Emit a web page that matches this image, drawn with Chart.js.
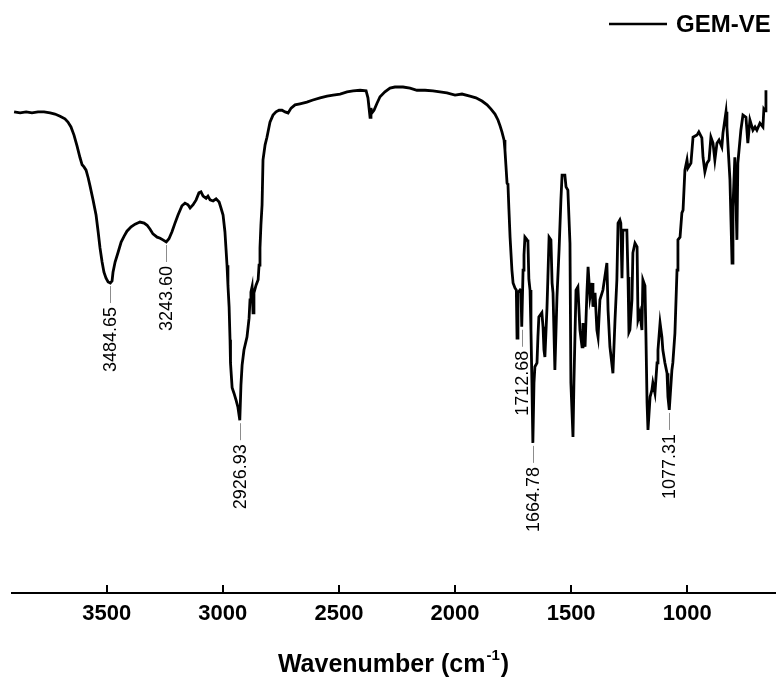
<!DOCTYPE html>
<html>
<head>
<meta charset="utf-8">
<title>GEM-VE FTIR</title>
<script src="https://cdn.jsdelivr.net/npm/chart.js@4.4.1/dist/chart.umd.min.js"></script>
<style>
  html, body { margin: 0; padding: 0; background: #fff; }
  canvas { display: block; }
</style>
</head>
<body>
<canvas id="myChart" width="776" height="682"></canvas>
<script>
// spectrum (wavenumber in cm-1, transmittance in arbitrary %)
var wavenumber = [
  3899, 3873, 3847, 3822, 3796, 3770, 3744, 3723, 3701, 3680, 3667, 3654, 3641, 3628, 3615, 3606, 3598, 3589, 3580, 3572,
  3559, 3546, 3537, 3529, 3520, 3512, 3503, 3494, 3484.65, 3477, 3473, 3464, 3451, 3438, 3425, 3413, 3395, 3378, 3357, 3339,
  3326, 3314, 3301, 3283, 3270, 3258, 3243.60, 3232, 3219, 3206, 3193, 3176, 3163, 3150, 3141, 3128, 3115, 3103, 3094, 3085,
  3072, 3064, 3055, 3042, 3029, 3016, 3008, 2999, 2991, 2986, 2982, 2978, 2973, 2969, 2967, 2960, 2952, 2943, 2935, 2926.93,
  2922, 2917, 2909, 2896, 2887, 2883, 2879, 2874, 2870, 2866, 2857, 2848, 2844, 2840, 2836, 2831, 2827, 2818, 2810, 2797,
  2784, 2771, 2758, 2745, 2732, 2719, 2706, 2689, 2668, 2638, 2612, 2581, 2551, 2525, 2495, 2465, 2439, 2409, 2383, 2375,
  2366, 2362, 2358, 2349, 2336, 2323, 2302, 2280, 2259, 2224, 2194, 2164, 2129, 2095, 2065, 2035, 2000, 1970, 1936, 1910,
  1884, 1862, 1845, 1828, 1815, 1806, 1798, 1789, 1785, 1781, 1776, 1772, 1768, 1763, 1755, 1750, 1742, 1736, 1733, 1729,
  1720, 1716, 1712.68, 1707, 1703, 1699, 1690, 1686, 1682, 1677, 1673, 1669, 1664.78, 1660, 1656, 1647, 1643, 1639, 1626, 1621,
  1617, 1613, 1604, 1600, 1595, 1587, 1582, 1578, 1570, 1561, 1552, 1544, 1539, 1527, 1522, 1514, 1505, 1501, 1492, 1488,
  1479, 1471, 1462, 1453, 1449, 1440, 1432, 1427, 1419, 1410, 1406, 1397, 1389, 1384, 1376, 1363, 1346, 1341, 1333, 1320,
  1311, 1303, 1298, 1290, 1286, 1281, 1277, 1260, 1255, 1251, 1247, 1238, 1234, 1225, 1216, 1212, 1204, 1195, 1191, 1182,
  1178, 1173, 1169, 1160, 1152, 1148, 1139, 1130, 1126, 1117, 1109, 1105, 1096, 1087, 1083, 1077.31, 1066, 1062, 1053, 1044,
  1040, 1031, 1023, 1018, 1010, 1001, 997, 984, 975, 958, 950, 937, 932, 924, 915, 906, 898, 889, 881, 872,
  863, 851, 846, 833, 829, 816, 807, 803, 795, 786, 782, 769, 760, 747, 739, 730, 717, 708, 700, 687,
  674, 670, 665, 661
];
var transmittance = [
  89.1, 88.9, 89.1, 88.9, 89.1, 89.1, 88.9, 88.7, 88.3, 87.8, 87.2, 86.3, 84.8, 82.8, 80.6, 79.3, 78.9, 78.3, 76.9, 75.4,
  72.8, 70.0, 66.9, 63.9, 61.3, 59.4, 58.3, 57.6, 57.4, 57.8, 59.4, 61.3, 63.1, 65.0, 66.1, 67.0, 67.8, 68.3, 68.7, 68.5,
  68.1, 67.4, 66.5, 65.9, 65.7, 65.4, 65.0, 65.6, 66.9, 68.5, 70.0, 71.7, 72.2, 71.9, 71.3, 71.9, 72.8, 74.1, 74.3, 73.5,
  73.1, 73.5, 72.8, 72.6, 73.0, 72.4, 71.3, 70.0, 66.9, 63.5, 60.7, 57.0, 53.0, 46.9, 42.6, 38.0, 37.0, 35.7, 34.4, 32.0,
  38.5, 42.2, 45.0, 47.4, 50.9, 54.3, 55.7, 56.7, 51.9, 55.6, 57.0, 58.0, 60.7, 63.9, 68.1, 71.9, 80.2, 83.0, 84.4, 87.2,
  88.5, 89.1, 89.4, 89.4, 89.1, 88.9, 89.8, 90.4, 90.6, 90.9, 91.3, 91.7, 92.0, 92.2, 92.4, 92.8, 93.0, 93.1, 93.0, 91.7,
  88.1, 89.8, 88.9, 89.4, 90.7, 91.9, 92.8, 93.5, 93.7, 93.7, 93.5, 93.1, 93.1, 93.0, 92.8, 92.6, 92.2, 92.4, 92.0, 91.7,
  91.1, 90.4, 89.6, 88.7, 87.6, 86.5, 85.4, 83.9, 82.0, 79.3, 75.9, 75.6, 71.1, 65.9, 59.8, 57.4, 56.5, 56.1, 47.2, 55.6,
  56.1, 55.9, 49.3, 59.8, 62.6, 65.9, 65.4, 65.0, 58.1, 56.1, 48.7, 39.4, 27.8, 38.9, 41.9, 42.6, 47.4, 51.1, 51.9, 49.3,
  45.0, 43.7, 52.8, 58.5, 65.9, 65.4, 57.4, 55.6, 41.3, 54.8, 63.5, 72.8, 77.4, 77.4, 75.2, 74.6, 64.8, 38.9, 28.9, 38.9,
  56.1, 56.7, 48.7, 45.6, 50.0, 45.6, 55.6, 60.4, 54.8, 57.4, 53.0, 55.6, 48.7, 47.4, 54.3, 56.1, 61.1, 52.4, 45.6, 40.7,
  50.6, 58.0, 68.5, 69.1, 68.5, 58.3, 67.2, 67.2, 58.5, 48.3, 48.7, 54.3, 63.0, 64.8, 64.1, 50.6, 51.9, 48.7, 58.0, 56.9,
  48.1, 35.2, 30.2, 36.3, 37.6, 38.9, 37.0, 42.6, 45.0, 50.0, 47.4, 45.0, 42.6, 40.7, 36.3, 33.9, 41.3, 42.6, 48.1, 59.8,
  65.4, 65.9, 70.4, 70.9, 78.3, 80.2, 78.7, 79.6, 84.4, 84.8, 85.4, 84.3, 80.7, 78.0, 79.6, 80.2, 84.4, 83.3, 80.2, 83.3,
  83.9, 82.6, 85.2, 89.1, 86.3, 76.5, 61.1, 71.5, 80.7, 65.4, 79.6, 85.7, 88.5, 88.1, 83.3, 87.6, 85.7, 86.3, 85.7, 87.0,
  86.3, 89.6, 89.3, 93.1
];

// labelled peaks
var peakWn = [3484.65, 3243.60, 2926.93, 1712.68, 1664.78, 1077.31];
var peakLabels = ['3484.65', '3243.60', '2926.93', '1712.68', '1664.78', '1077.31'];

// x axis
var tickValues = [3500, 3000, 2500, 2000, 1500, 1000];
var xMin = 622;
var xMax = 3908;

var points = wavenumber.map(function (w, i) {
    return { x: w, y: transmittance[i] };
});

var fontFamily = '"Liberation Sans", Arial, sans-serif';

// inward tick marks on the x axis
var innerTicks = {
    id: 'innerTicks',
    afterDraw: function (chart) {
        var ctx = chart.ctx;
        var xs = chart.scales.x;
        var bottom = chart.chartArea.bottom;
        ctx.save();
        ctx.strokeStyle = '#000';
        ctx.lineWidth = 2;
        tickValues.forEach(function (v) {
            var px = Math.round(xs.getPixelForValue(v));
            ctx.beginPath();
            ctx.moveTo(px, bottom);
            ctx.lineTo(px, bottom - 8);
            ctx.stroke();
        });
        ctx.restore();
    }
};

// peak labels with a thin leader line
var peakNotes = {
    id: 'peakNotes',
    afterDatasetsDraw: function (chart) {
        var ctx = chart.ctx;
        var xs = chart.scales.x;
        var ys = chart.scales.y;
        peakWn.forEach(function (wn, i) {
            var idx = wavenumber.indexOf(wn);
            var px = Math.round(xs.getPixelForValue(wn)) + 0.5;
            var py = ys.getPixelForValue(transmittance[idx]);
            ctx.save();
            ctx.strokeStyle = '#8c8c8c';
            ctx.lineWidth = 1;
            ctx.beginPath();
            ctx.moveTo(px, py + 3);
            ctx.lineTo(px, py + 20);
            ctx.stroke();
            ctx.translate(px, py + 24);
            ctx.rotate(-Math.PI / 2);
            ctx.fillStyle = '#000';
            ctx.font = '18px ' + fontFamily;
            ctx.textAlign = 'right';
            ctx.textBaseline = 'middle';
            ctx.fillText(peakLabels[i], 0, 1);
            ctx.restore();
        });
    }
};

// legend in the top right corner and the axis title with superscript
var extras = {
    id: 'extras',
    afterDraw: function (chart) {
        var ctx = chart.ctx;
        var w = chart.width;
        ctx.save();
        ctx.strokeStyle = '#000';
        ctx.lineWidth = 2.5;
        ctx.beginPath();
        ctx.moveTo(w - 167, 24);
        ctx.lineTo(w - 109, 24);
        ctx.stroke();
        ctx.fillStyle = '#000';
        ctx.font = 'bold 24px ' + fontFamily;
        ctx.textAlign = 'left';
        ctx.textBaseline = 'middle';
        ctx.fillText(chart.data.datasets[0].label, w - 100, 25);

        var a = 'Wavenumber (cm', sup = '-1', b = ')';
        var big = 'bold 25px ' + fontFamily, small = 'bold 15px ' + fontFamily;
        ctx.font = big;
        var wa = ctx.measureText(a).width, wb = ctx.measureText(b).width;
        ctx.font = small;
        var ws = ctx.measureText(sup).width;
        var cx = (chart.chartArea.left + chart.chartArea.right) / 2;
        var x0 = cx - (wa + ws + wb + 2) / 2;
        var base = 672;
        ctx.textBaseline = 'alphabetic';
        ctx.font = big;
        ctx.fillText(a, x0, base);
        ctx.font = small;
        ctx.fillText(sup, x0 + wa + 1, base - 12);
        ctx.font = big;
        ctx.fillText(b, x0 + wa + ws + 2, base);
        ctx.restore();
    }
};

var ctx = document.getElementById('myChart').getContext('2d');
var myChart = new Chart(ctx, {
    type: 'line',
    data: {
        datasets: [{
            label: 'GEM-VE',
            data: points,
            borderColor: '#000',
            borderWidth: 2.8,
            pointRadius: 0,
            tension: 0,
            fill: false
        }]
    },
    options: {
        responsive: false,
        animation: false,
        devicePixelRatio: 1,
        layout: {
            padding: { top: 53, left: 12, right: 1, bottom: 0 }
        },
        plugins: {
            legend: { display: false },
            title: { display: false },
            tooltip: { enabled: false }
        },
        scales: {
            x: {
                type: 'linear',
                reverse: true,
                min: xMin,
                max: xMax,
                afterBuildTicks: function (scale) {
                    scale.ticks = tickValues.map(function (v) { return { value: v }; });
                },
                afterFit: function (scale) {
                    scale.height = 89;
                },
                grid: { display: false, drawTicks: false },
                border: { display: true, color: '#000', width: 2 },
                ticks: {
                    color: '#000',
                    padding: 8,
                    maxRotation: 0,
                    font: { family: fontFamily, size: 22, weight: 'bold' },
                    callback: function (value) { return String(value); }
                }
            },
            y: {
                display: false,
                min: 0,
                max: 100
            }
        }
    },
    plugins: [innerTicks, peakNotes, extras]
});
</script>
</body>
</html>
